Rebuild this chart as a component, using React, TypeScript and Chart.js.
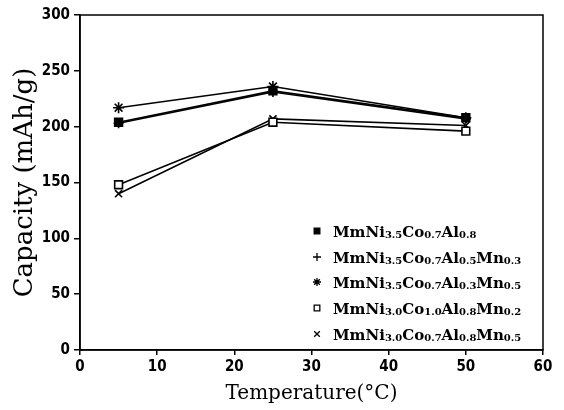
import React, { useEffect, useRef } from "react";
import { Chart, registerables } from "chart.js";
import { drawPoint } from "chart.js/helpers";

Chart.register(...registerables);

const temperatures = [5, 25, 50];
const seriesNames = [
  "MmNi3.5Co0.7Al0.8",
  "MmNi3.5Co0.7Al0.5Mn0.3",
  "MmNi3.5Co0.7Al0.3Mn0.5",
  "MmNi3.0Co1.0Al0.8Mn0.2",
  "MmNi3.0Co0.7Al0.8Mn0.5",
];
const seriesAl08 = [204, 232, 208];
const seriesMn03 = [203, 231, 207];
const seriesMn05 = [217, 236, 208];
const seriesCo10 = [148, 204, 196];
const seriesNi30 = [140, 207, 201];
const seriesValues = [seriesAl08, seriesMn03, seriesMn05, seriesCo10, seriesNi30];
const pointStyles = ["rect", "cross", "star", "rect", "crossRot"];
const pointFills = ["#000", "#000", "#000", "#fff", "#000"];
const pointRadii = [5.5, 5, 5.5, 5.5, 5];
const xTicks = [0, 10, 20, 30, 40, 50, 60];
const yTicks = [0, 50, 100, 150, 200, 250, 300];

const LEFT = 80;
const TOP = 15;
const RIGHT_PAD = 21;
const BOTTOM_H = 60;

const boxPlugin = {
  id: "box",
  afterDraw(chart: any) {
    const { ctx, chartArea: a } = chart;
    ctx.save();
    ctx.strokeStyle = "#000";
    ctx.lineWidth = 1.5;
    ctx.strokeRect(a.left, a.top, a.right - a.left, a.bottom - a.top);
    ctx.restore();
  },
};

const legendPlugin = {
  id: "subLegend",
  afterDraw(chart: any) {
    const { ctx } = chart;
    const x0 = 317;
    const tx = 333;
    const rows = [231, 257, 282, 308, 334];
    ctx.save();
    chart.data.datasets.forEach((ds: any, i: number) => {
      const y = rows[i];
      ctx.strokeStyle = "#000";
      ctx.fillStyle = ds.pointBackgroundColor;
      ctx.lineWidth = 1.3;
      drawPoint(ctx, { pointStyle: ds.pointStyle, radius: 4, borderWidth: 1.3, rotation: 0 }, x0, y);
      let x = tx;
      ctx.fillStyle = "#000";
      ctx.textBaseline = "alphabetic";
      const re = /([A-Za-z]+)([\d.]+)/g;
      let m: RegExpExecArray | null;
      while ((m = re.exec(ds.label)) !== null) {
        ctx.font = "bold 15px 'DejaVu Serif'";
        ctx.fillText(m[1], x, y + 6);
        x += ctx.measureText(m[1]).width;
        ctx.font = "bold 10px 'DejaVu Serif'";
        ctx.fillText(m[2], x, y + 7);
        x += ctx.measureText(m[2]).width;
      }
    });
    ctx.restore();
  },
};

export default function App() {
  const ref = useRef<HTMLCanvasElement>(null);
  useEffect(() => {
    document.body.style.margin = "0";
    const tickFont = { family: "'Liberation Sans Narrow', 'DejaVu Sans Condensed', sans-serif", size: 15, weight: "bold" as const };
    const chart = new Chart(ref.current!, {
      type: "line",
      data: {
        datasets: seriesNames.map((name, i) => ({
          label: name,
          data: temperatures.map((t, j) => ({ x: t, y: seriesValues[i][j] })),
          borderColor: "#000",
          borderWidth: 1.6,
          pointStyle: pointStyles[i] as any,
          pointRadius: pointRadii[i],
          pointBackgroundColor: pointFills[i],
          pointBorderColor: "#000",
          pointBorderWidth: 1.6,
          tension: 0,
        })),
      },
      options: {
        animation: false,
        responsive: false,
        layout: { padding: { left: 0, top: TOP, right: RIGHT_PAD, bottom: 0 } },
        plugins: { legend: { display: false }, tooltip: { enabled: false } },
        scales: {
          x: {
            type: "linear",
            min: 0,
            max: 60,
            afterBuildTicks: (s: any) => { s.ticks = xTicks.map((v) => ({ value: v })); },
            afterFit: (s: any) => { s.height = BOTTOM_H; },
            grid: { display: true, drawOnChartArea: false, drawTicks: true, tickLength: 5, color: "#000", lineWidth: 1.5 },
            border: { display: true, color: "#000", width: 1.5 },
            ticks: { color: "#000", padding: 3, maxRotation: 0, font: tickFont },
            title: { display: true, text: "Temperature(°C)", color: "#000", padding: { top: 0, bottom: 4 }, font: { family: "'DejaVu Serif'", size: 20 } },
          },
          y: {
            min: 0,
            max: 300,
            afterBuildTicks: (s: any) => { s.ticks = yTicks.map((v) => ({ value: v })); },
            afterFit: (s: any) => { s.width = LEFT; },
            grid: { display: true, drawOnChartArea: false, drawTicks: true, tickLength: 6, color: "#000", lineWidth: 1.5 },
            border: { display: true, color: "#000", width: 1.5 },
            ticks: { color: "#000", padding: 4, font: tickFont },
            title: { display: true, text: "Capacity (mAh/g)", color: "#000", padding: { top: 10, bottom: 10 }, font: { family: "'DejaVu Serif'", size: 26 } },
          },
        },
      },
      plugins: [boxPlugin, legendPlugin],
    });
    return () => chart.destroy();
  }, []);
  return (
    <div style={{ width: 564, height: 410, background: "#fff" }}>
      <canvas ref={ref} width={564} height={410} />
    </div>
  );
}
